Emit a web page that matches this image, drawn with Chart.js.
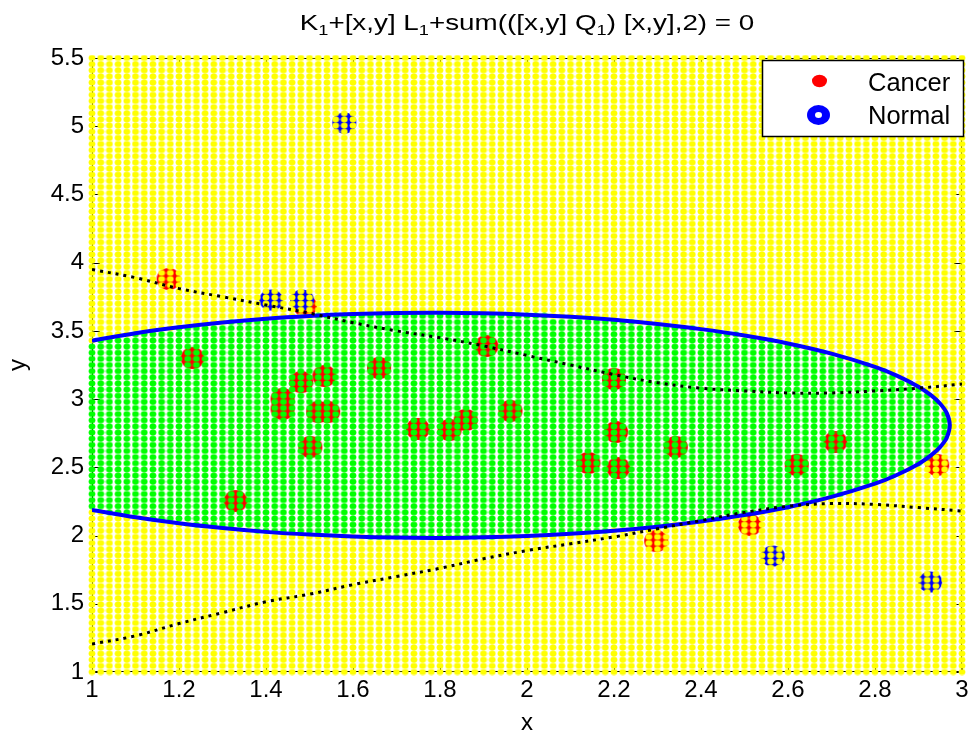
<!DOCTYPE html>
<html>
<head>
<meta charset="utf-8">
<script src="https://cdn.jsdelivr.net/npm/chart.js@4.4.1/dist/chart.umd.min.js"></script>
<style>
  html, body { margin: 0; padding: 0; background: #ffffff; }
  #wrap { width: 975px; height: 733px; }
</style>
</head>
<body>
<div id="wrap"><canvas id="chart" width="975" height="733"></canvas></div>
<script>
// ---- Samples -------------------------------------------------------------
const cancerX = [1.176, 1.231, 1.330, 1.438, 1.438, 1.481, 1.490, 1.502, 1.534, 1.520, 1.543,
                 1.660, 1.749, 1.822, 1.859, 1.907, 1.962, 2.141, 2.200, 2.205, 2.210, 2.297,
                 2.342, 2.512, 2.620, 2.709, 2.943];
const cancerY = [3.880, 3.301, 2.253, 3.001, 2.928, 3.125, 3.683, 2.649, 3.169, 2.906, 2.906,
                 3.228, 2.781, 2.774, 2.847, 3.389, 2.913, 2.532, 3.147, 2.759, 2.495, 1.960,
                 2.649, 2.077, 2.517, 2.686, 2.517];
const normalX = [1.580, 1.412, 1.483, 2.565, 2.927];
const normalY = [5.024, 3.726, 3.726, 1.850, 1.660];

// ---- Quadratic boundary (closed region, open at the left edge) -----------
const boundaryX = [1.00, 1.10, 1.20, 1.30, 1.40, 1.50, 1.60, 1.70, 1.80, 1.90, 2.00, 2.10, 2.20,
                   2.30, 2.40, 2.50, 2.60, 2.70, 2.80, 2.85, 2.90, 2.93, 2.95, 2.965, 2.972,
                   2.965, 2.95, 2.93, 2.90, 2.85, 2.80, 2.70, 2.60, 2.50, 2.40, 2.30, 2.20, 2.10,
                   2.00, 1.90, 1.80, 1.70, 1.60, 1.50, 1.40, 1.30, 1.20, 1.10, 1.00];
const boundaryY = [3.428, 3.483, 3.526, 3.561, 3.589, 3.609, 3.623, 3.631, 3.633, 3.629, 3.619,
                   3.603, 3.581, 3.551, 3.513, 3.466, 3.408, 3.333, 3.236, 3.172, 3.091, 3.026,
                   2.966, 2.897, 2.808, 2.719, 2.650, 2.591, 2.525, 2.444, 2.380, 2.283, 2.208,
                   2.150, 2.103, 2.065, 2.035, 2.013, 1.997, 1.987, 1.983, 1.985, 1.993, 2.007,
                   2.027, 2.055, 2.090, 2.134, 2.188];

// ---- The two other boundaries (dotted) ------------------------------------
const upperX = [1.0, 1.1, 1.2, 1.3, 1.4, 1.5, 1.6, 1.7, 1.8, 1.9, 2.0, 2.1, 2.2, 2.3, 2.4, 2.5,
                2.6, 2.7, 2.8, 2.9, 3.0];
const upperY = [3.95, 3.89, 3.81, 3.75, 3.69, 3.63, 3.56, 3.50, 3.45, 3.39, 3.32, 3.25, 3.18,
                3.12, 3.08, 3.06, 3.045, 3.045, 3.06, 3.08, 3.11];
const lowerX = [1.0, 1.1, 1.2, 1.3, 1.4, 1.5, 1.6, 1.7, 1.8, 1.9, 2.0, 2.1, 2.2, 2.3, 2.4, 2.5,
                2.6, 2.7, 2.8, 2.9, 3.0];
const lowerY = [1.205, 1.265, 1.355, 1.435, 1.515, 1.57, 1.64, 1.70, 1.76, 1.83, 1.89, 1.94,
                1.99, 2.05, 2.11, 2.17, 2.215, 2.235, 2.228, 2.205, 2.18];

// ---- Evaluation mesh -------------------------------------------------------
const meshXRange = [1, 3];
const meshYRange = [1, 5.5];
const meshIntervals = 100;

// ---- Axes, legend and title text ------------------------------------------
const xTicks = [1, 1.2, 1.4, 1.6, 1.8, 2, 2.2, 2.4, 2.6, 2.8, 3];
const xTickLabels = ['1', '1.2', '1.4', '1.6', '1.8', '2', '2.2', '2.4', '2.6', '2.8', '3'];
const yTicks = [1, 1.5, 2, 2.5, 3, 3.5, 4, 4.5, 5, 5.5];
const yTickLabels = ['1', '1.5', '2', '2.5', '3', '3.5', '4', '4.5', '5', '5.5'];
const legendLabels = ['Cancer', 'Normal'];
// title pieces: [text, isSubscript]
const titleParts = [['K', false], ['1', true], ['+[x,y] L', false], ['1', true],
                    ['+sum(([x,y] Q', false], ['1', true], [') [x,y],2) = 0', false]];

const FONT = '"Liberation Sans", Arial, Helvetica, sans-serif';

// ---- Helpers ---------------------------------------------------------------
function zip(xs, ys) { return xs.map((x, i) => ({ x: x, y: ys[i] })); }

function insidePolygon(px, py, poly) {
  let inside = false;
  for (let i = 0, j = poly.length - 1; i < poly.length; j = i++) {
    const xi = poly[i][0], yi = poly[i][1], xj = poly[j][0], yj = poly[j][1];
    if (((yi > py) !== (yj > py)) && (px < (xj - xi) * (py - yi) / (yj - yi) + xi)) inside = !inside;
  }
  return inside;
}

// region polygon, closed a little to the left of the axis
const region = boundaryX.map((x, i) => [x, boundaryY[i]]);
region.push([0.9, boundaryY[boundaryY.length - 1]]);
region.push([0.9, boundaryY[0]]);

const outsidePts = [], insidePts = [];
for (let i = 0; i <= meshIntervals; i++) {
  const gx = meshXRange[0] + (meshXRange[1] - meshXRange[0]) * i / meshIntervals;
  for (let j = 0; j <= meshIntervals; j++) {
    const gy = meshYRange[0] + (meshYRange[1] - meshYRange[0]) * j / meshIntervals;
    (insidePolygon(gx, gy, region) ? insidePts : outsidePts).push({ x: gx, y: gy });
  }
}

function sprite(w, h, paint) {
  const c = document.createElement('canvas');
  c.width = w; c.height = h;
  paint(c.getContext('2d'), w, h);
  return c;
}
function dotSprite(color) {
  return sprite(8, 7, (g, w, h) => {
    g.fillStyle = color;
    g.beginPath(); g.ellipse(w / 2, h / 2, 3.4, 2.9, 0, 0, Math.PI * 2); g.fill();
  });
}
const yellowDot = dotSprite('#ffff00');
const greenDot = dotSprite('#00ff00');
const cancerSprite = sprite(26, 24, (g, w, h) => {
  g.fillStyle = '#ff0000';
  g.beginPath(); g.ellipse(w / 2, h / 2, 12, 11, 0, 0, Math.PI * 2); g.fill();
});
const normalSprite = sprite(26, 22, (g, w, h) => {
  g.fillStyle = '#0000ff';
  g.beginPath(); g.ellipse(w / 2, h / 2, 12, 10.5, 0, 0, Math.PI * 2); g.fill();
});

// ---- Plugins: axes box, legend box, title ---------------------------------
const frame = {
  id: 'frame',
  beforeDatasetsDraw(chart) {
    const { ctx, chartArea: a, scales } = chart;
    ctx.save();
    ctx.strokeStyle = '#000000';
    ctx.lineWidth = 1;
    ctx.strokeRect(a.left + 0.5, a.top + 0.5, a.right - a.left - 1, a.bottom - a.top - 1);
    ctx.beginPath();
    xTicks.forEach(v => {
      const p = Math.round(scales.x.getPixelForValue(v)) + 0.5;
      ctx.moveTo(p, a.bottom); ctx.lineTo(p, a.bottom - 8);
      ctx.moveTo(p, a.top); ctx.lineTo(p, a.top + 8);
    });
    yTicks.forEach(v => {
      const p = Math.round(scales.y.getPixelForValue(v)) + 0.5;
      ctx.moveTo(a.left, p); ctx.lineTo(a.left + 8, p);
      ctx.moveTo(a.right, p); ctx.lineTo(a.right - 8, p);
    });
    ctx.stroke();
    ctx.restore();
  },
  afterDraw(chart) {
    const { ctx, chartArea: a } = chart;
    // legend
    const bx = 762.5, by = 60.5, bw = 201, bh = 76;
    ctx.save();
    ctx.fillStyle = '#ffffff';
    ctx.fillRect(bx, by, bw, bh);
    ctx.strokeStyle = '#000000';
    ctx.lineWidth = 1.5;
    ctx.strokeRect(bx, by, bw, bh);
    ctx.fillStyle = '#ff0000';
    ctx.beginPath(); ctx.ellipse(819.5, 81, 7.5, 6.2, 0, 0, Math.PI * 2); ctx.fill();
    ctx.fillStyle = '#0000ff';
    ctx.beginPath(); ctx.ellipse(818.5, 115, 11.5, 10, 0, 0, Math.PI * 2); ctx.fill();
    ctx.fillStyle = '#ffffff';
    ctx.beginPath(); ctx.ellipse(818.5, 115, 3.5, 3, 0, 0, Math.PI * 2); ctx.fill();
    ctx.fillStyle = '#000000';
    ctx.font = '25.5px ' + FONT;
    ctx.textAlign = 'left';
    ctx.textBaseline = 'alphabetic';
    ctx.fillText(legendLabels[0], 868, 91);
    ctx.fillText(legendLabels[1], 868, 123.5);
    ctx.restore();

    // title, set wide
    ctx.save();
    const stretch = 1.3;
    const mainFont = '21.4px ' + FONT, subFont = '14px ' + FONT;
    let total = 0;
    titleParts.forEach(([t, sub]) => { ctx.font = sub ? subFont : mainFont; total += ctx.measureText(t).width; });
    const cx = (a.left + a.right) / 2;
    ctx.translate(cx, 0);
    ctx.scale(stretch, 1);
    let x = -total / 2;
    ctx.fillStyle = '#000000';
    ctx.textBaseline = 'alphabetic';
    ctx.textAlign = 'left';
    titleParts.forEach(([t, sub]) => {
      ctx.font = sub ? subFont : mainFont;
      ctx.fillText(t, x, sub ? 35 : 29.5);
      x += ctx.measureText(t).width;
    });
    ctx.restore();
  }
};

// ---- Chart -----------------------------------------------------------------
new Chart(document.getElementById('chart'), {
  type: 'scatter',
  data: {
    datasets: [
      { label: legendLabels[0], data: zip(cancerX, cancerY), pointStyle: cancerSprite, pointRadius: 12,
        order: 6, clip: false },
      { label: legendLabels[1], data: zip(normalX, normalY), pointStyle: normalSprite, pointRadius: 12,
        order: 5, clip: false },
      { label: 'mesh outside', data: outsidePts, pointStyle: yellowDot, pointRadius: 4,
        order: 4, clip: false },
      { label: 'mesh inside', data: insidePts, pointStyle: greenDot, pointRadius: 4,
        order: 3, clip: false },
      { type: 'line', label: 'boundary', data: zip(boundaryX, boundaryY), borderColor: '#0000ff',
        borderWidth: 4, pointRadius: 0, tension: 0.35, fill: false, order: 2 },
      { type: 'line', label: 'upper', data: zip(upperX, upperY), borderColor: '#000000',
        borderWidth: 3, borderDash: [3, 5], pointRadius: 0, tension: 0.35, fill: false, order: 1 },
      { type: 'line', label: 'lower', data: zip(lowerX, lowerY), borderColor: '#000000',
        borderWidth: 3, borderDash: [3, 5], pointRadius: 0, tension: 0.35, fill: false, order: 1 }
    ]
  },
  options: {
    responsive: false,
    animation: false,
    devicePixelRatio: 1,
    events: [],
    layout: { padding: { left: 0, right: 10, top: 58, bottom: 0 } },
    plugins: { legend: { display: false }, title: { display: false }, tooltip: { enabled: false } },
    scales: {
      x: {
        type: 'linear', min: 1, max: 3,
        afterBuildTicks: s => { s.ticks = xTicks.map(v => ({ value: v })); },
        afterFit: s => { s.height = 61; },
        grid: { display: false, drawTicks: false },
        border: { display: false },
        ticks: { padding: 4, color: '#000000', font: { family: FONT, size: 24 },
                 maxRotation: 0, autoSkip: false, callback: (v, i) => xTickLabels[i] },
        title: { display: true, text: 'x', color: '#000000', font: { family: FONT, size: 24, lineHeight: 0.8 },
                 padding: { top: 0, bottom: 0 } }
      },
      y: {
        type: 'linear', min: 1, max: 5.5,
        afterBuildTicks: s => { s.ticks = yTicks.map(v => ({ value: v })); },
        afterFit: s => { s.width = 92; },
        grid: { display: false, drawTicks: false },
        border: { display: false },
        ticks: { padding: 8, color: '#000000', font: { family: FONT, size: 24 },
                 autoSkip: false, callback: (v, i) => yTickLabels[i] },
        title: { display: true, text: 'y', color: '#000000', font: { family: FONT, size: 24, lineHeight: 1 },
                 padding: { top: 6, bottom: 0 } }
      }
    }
  },
  plugins: [frame]
});
</script>
</body>
</html>
